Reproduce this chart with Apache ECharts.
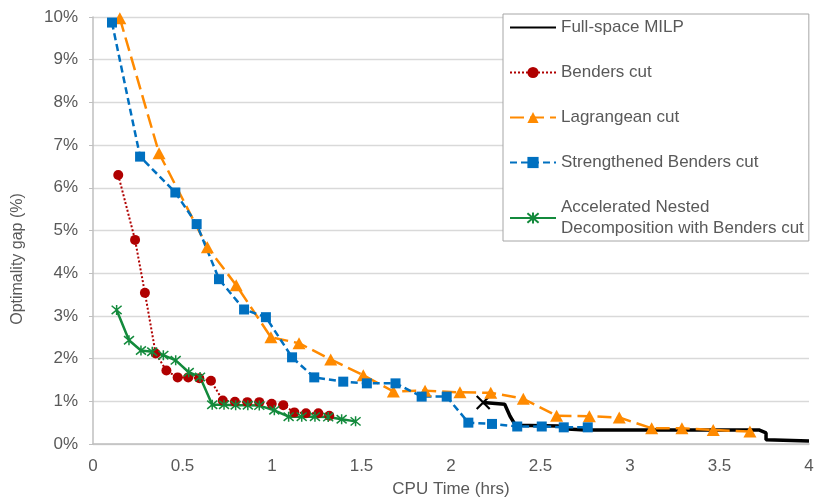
<!DOCTYPE html>
<html>
<head>
<meta charset="utf-8">
<script src="https://cdn.jsdelivr.net/npm/echarts@6/dist/echarts.min.js"></script>
<style>html,body{margin:0;padding:0;background:#fff}#c{width:814px;height:499px}</style>
</head>
<body>
<div id="c"></div>
<script>
var seriesNames = ['Full-space MILP','Benders cut','Lagrangean cut','Strengthened Benders cut','Accelerated Nested\nDecomposition with Benders cut'];
var xTicks = [0,0.5,1,1.5,2,2.5,3,3.5,4];
var yTicks = [0,1,2,3,4,5,6,7,8,9,10];
var milp = [[2.18,0.97],[2.30,0.93],[2.33,0.65],[2.36,0.44],[2.60,0.42],[2.65,0.35],[2.75,0.33],[3.72,0.33],[3.76,0.26],[3.76,0.10],[4.0,0.07]];
var benders = [[0.141,6.30],[0.235,4.78],[0.29,3.54],[0.35,2.12],[0.41,1.72],[0.473,1.56],[0.532,1.56],[0.594,1.54],[0.659,1.48],[0.725,1.02],[0.793,0.99],[0.862,0.98],[0.929,0.98],[0.998,0.94],[1.063,0.91],[1.125,0.74],[1.19,0.72],[1.259,0.72],[1.32,0.66]];
var lagrangean = [[0.15,9.97],[0.369,6.81],[0.639,4.61],[0.80,3.72],[0.994,2.50],[1.151,2.36],[1.328,1.98],[1.51,1.61],[1.678,1.23],[1.855,1.25],[2.05,1.21],[2.222,1.20],[2.404,1.06],[2.59,0.66],[2.773,0.65],[2.94,0.62],[3.121,0.37],[3.29,0.37],[3.465,0.33],[3.67,0.29]];
var strengthened = [[0.106,9.87],[0.263,6.73],[0.46,5.89],[0.579,5.15],[0.704,3.86],[0.844,3.15],[0.966,2.97],[1.112,2.03],[1.236,1.56],[1.398,1.46],[1.53,1.42],[1.69,1.42],[1.836,1.11],[1.976,1.11],[2.097,0.50],[2.229,0.47],[2.37,0.41],[2.507,0.41],[2.63,0.39],[2.764,0.39]];
var accelerated = [[0.132,3.14],[0.201,2.43],[0.268,2.19],[0.331,2.16],[0.393,2.08],[0.462,1.96],[0.535,1.68],[0.598,1.57],[0.666,0.92],[0.732,0.92],[0.797,0.91],[0.865,0.91],[0.929,0.90],[1.013,0.79],[1.093,0.64],[1.166,0.64],[1.24,0.64],[1.314,0.63],[1.389,0.58],[1.467,0.53]];

var FONT = '"Liberation Sans", Arial, sans-serif';
var TXT = '#595959';
var XPATH = 'path://M0,0L10,10M10,0L0,10';
var STAR = 'path://M0,0L10,10M10,0L0,10M5,-1L5,11';
var TINY = 'path://M0,0h0.2v0.2h-0.2zM20,20h0.2v0.2h-0.2zM9.6,10h0.8v0.2h-0.8z';

var chart = echarts.init(document.getElementById('c'), null, {renderer:'canvas'});
var option = {
  animation: false,
  backgroundColor: '#fff',
  textStyle: {fontFamily: FONT},
  grid: {left: 93, right: 5, top: 17, bottom: 55, containLabel: false, outerBoundsMode: 'none'},
  xAxis: {
    type: 'value', min: xTicks[0], max: xTicks[xTicks.length-1], interval: 0.5,
    name: 'CPU Time (hrs)', nameLocation: 'middle', nameGap: 37,
    nameTextStyle: {color: TXT, fontSize: 17, fontFamily: FONT},
    axisLine: {show: true, lineStyle: {color: '#bfbfbf', width: 1.5}},
    axisTick: {show: false},
    axisLabel: {color: TXT, fontSize: 17, margin: 14, fontFamily: FONT},
    splitLine: {show: false}
  },
  yAxis: {
    type: 'value', min: yTicks[0], max: yTicks[yTicks.length-1], interval: 1,
    axisLine: {show: true, lineStyle: {color: '#bfbfbf', width: 1.5}},
    axisTick: {show: true, inside: false, length: 4, lineStyle: {color: '#bfbfbf'}},
    axisLabel: {color: TXT, fontSize: 17, margin: 15, fontFamily: FONT, formatter: '{value}%'},
    splitLine: {show: true, lineStyle: {color: '#d9d9d9', width: 1.3}}
  },
  graphic: [{
    type: 'text', x: 18, y: 259, rotation: Math.PI/2,
    style: {text: 'Optimality gap (%)', fill: TXT, font: '16px ' + FONT, align: 'center', verticalAlign: 'middle'}
  }],
  legend: {
    orient: 'vertical', left: 503, top: 14,
    padding: [3, 5, 2, 6], itemGap: 24, itemWidth: 46, itemHeight: 14,
    borderColor: '#a6a6a6', borderWidth: 1, backgroundColor: '#fff',
    textStyle: {color: TXT, fontSize: 17, fontFamily: FONT, lineHeight: 21},
    data: seriesNames
  },
  series: [
    {
      name: seriesNames[0], type: 'line', symbol: TINY, symbolSize: 11,
      data: milp.map(function(p, i){
        return i === 0 ? {value: p, symbol: XPATH, symbolSize: 13, itemStyle: {color: '#000', borderColor: '#000', borderWidth: 2.2}} : {value: p, symbol: 'none'};
      }),
      lineStyle: {color: '#000', width: 3.5},
      itemStyle: {color: '#000'},
      emphasis: {disabled: true}
    },
    {
      name: seriesNames[1], type: 'line', data: benders,
      symbol: 'circle', symbolSize: 10,
      lineStyle: {color: '#b00000', width: 2, type: [2, 2]},
      itemStyle: {color: '#b00000'},
      emphasis: {disabled: true}
    },
    {
      name: seriesNames[2], type: 'line', data: lagrangean,
      symbol: 'triangle', symbolSize: [13, 12],
      lineStyle: {color: '#ff8a00', width: 2.5, type: [14, 6]},
      itemStyle: {color: '#ff8a00'},
      emphasis: {disabled: true}
    },
    {
      name: seriesNames[3], type: 'line', data: strengthened,
      symbol: 'rect', symbolSize: 10,
      lineStyle: {color: '#0070c0', width: 2.5, type: [7, 4]},
      itemStyle: {color: '#0070c0'},
      emphasis: {disabled: true}
    },
    {
      name: seriesNames[4], type: 'line', data: accelerated,
      symbol: STAR, symbolSize: 10,
      lineStyle: {color: '#138a3c', width: 2.5},
      itemStyle: {color: '#138a3c', borderColor: '#138a3c', borderWidth: 1.5},
      emphasis: {disabled: true}
    }
  ]
};
chart.setOption(option);
</script>
</body>
</html>
